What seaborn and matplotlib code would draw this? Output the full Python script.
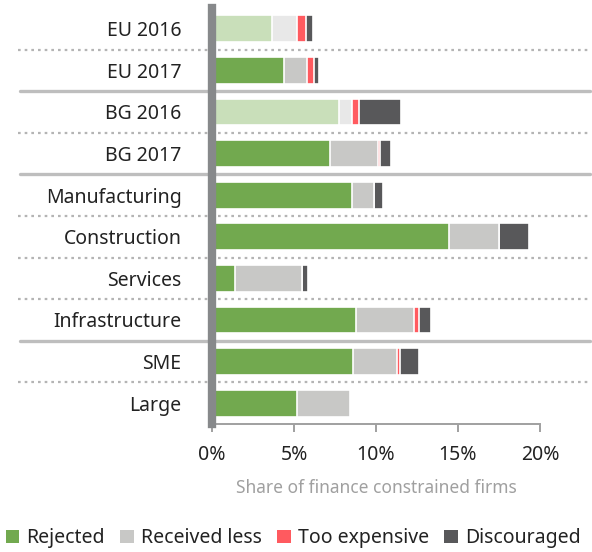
import numpy as np
import pandas as pd
import seaborn as sns
import matplotlib.pyplot as plt
from matplotlib.patches import Patch

# --- Data (share of finance constrained firms, %) ---
categories = ["EU 2016", "EU 2017", "BG 2016", "BG 2017", "Manufacturing",
              "Construction", "Services", "Infrastructure", "SME", "Large"]
rejected = [3.65, 4.4, 7.75, 7.2, 8.55, 14.45, 1.4, 8.75, 8.6, 5.2]
received_less = [1.55, 1.4, 0.8, 2.9, 1.3, 3.05, 4.1, 3.55, 2.7, 3.2]
too_expensive = [0.55, 0.4, 0.4, 0.15, 0.0, 0.0, 0.0, 0.3, 0.15, 0.0]
discouraged = [0.4, 0.35, 2.55, 0.65, 0.6, 1.85, 0.35, 0.75, 1.2, 0.0]
series_names = ["Rejected", "Received less", "Too expensive", "Discouraged"]
xticks = [0, 5, 10, 15, 20]

# --- Colours ---
GREEN, GREEN_LT = "#72A94F", "#C9DFBA"
GREY, GREY_LT = "#C8C8C6", "#E8E8E8"
RED = "#FF5A5F"
DARK = "#58585A"
old_rows = {"EU 2016", "BG 2016"}

df = pd.DataFrame({
    "category": categories,
    "Rejected": rejected,
    "Received less": received_less,
    "Too expensive": too_expensive,
    "Discouraged": discouraged,
})
# cumulative ends for stacking (draw longest first, overlap shorter ones)
df["c1"] = df["Rejected"]
df["c2"] = df["c1"] + df["Received less"]
df["c3"] = df["c2"] + df["Too expensive"]
df["c4"] = df["c3"] + df["Discouraged"]

sns.set_theme(style="white")
plt.rcParams["font.family"] = ["Noto Sans", "DejaVu Sans"]

fig = plt.figure(figsize=(5.92, 5.52), dpi=100)
ax = fig.add_axes([212 / 592, 128 / 552, 328 / 592, 416 / 552])

layers = [
    ("c4", DARK, DARK),
    ("c3", RED, RED),
    ("c2", GREY, GREY_LT),
    ("c1", GREEN, GREEN_LT),
]
for col, base, light in layers:
    pal = {c: (light if c in old_rows else base) for c in categories}
    sns.barplot(data=df, x=col, y="category", hue="category", palette=pal,
                order=categories, hue_order=categories, legend=False,
                width=0.64, edgecolor="white", linewidth=1.2, saturation=1,
                ax=ax)

ax.set_xlim(0, 20)
ax.set_ylim(9.5, -0.5)

# row separators: solid between groups, dotted within groups
x0 = -192 / 328
x1 = 378 / 328
for i in range(len(categories) - 1):
    y = i + 0.5
    if i in (1, 3, 7):
        ax.axhline(y, xmin=x0, xmax=x1, color="#BEBEBE", lw=2.4,
                   clip_on=False, zorder=0)
    else:
        ax.axhline(y, xmin=x0 - 0.006, xmax=x1, color="#B4B4B4", lw=1.6,
                   ls=(0, (1.2, 1.8)), clip_on=False, zorder=0)

# axes styling
for s in ["top", "right"]:
    ax.spines[s].set_visible(False)
ax.spines["left"].set_color("#87898B")
ax.spines["left"].set_linewidth(6)
ax.spines["left"].set_zorder(3)
ax.spines["bottom"].set_color("#A0A0A0")
ax.spines["bottom"].set_linewidth(1.4)

ax.set_xticks(xticks)
ax.set_xticklabels([f"{t}%" for t in xticks])
ax.tick_params(axis="x", bottom=True, length=6, width=1.4, color="#A0A0A0",
               labelsize=14, labelcolor="#222222", pad=9)
ax.tick_params(axis="y", left=False, labelsize=14, labelcolor="#222222", pad=16)
ax.set_ylabel("")
ax.set_xlabel("Share of finance constrained firms", fontsize=12.5,
              color="#A0A0A0", labelpad=10)

handles = [Patch(facecolor=c, edgecolor="none") for c in [GREEN, GREY, RED, DARK]]
fig.legend(handles, series_names, loc="center", bbox_to_anchor=(0.495, 0.025),
           ncol=4, frameon=False, fontsize=14, handlelength=0.7,
           handleheight=0.7, handletextpad=0.35, columnspacing=0.8,
           labelcolor="#222222")

fig.savefig("out.png", dpi=100)
